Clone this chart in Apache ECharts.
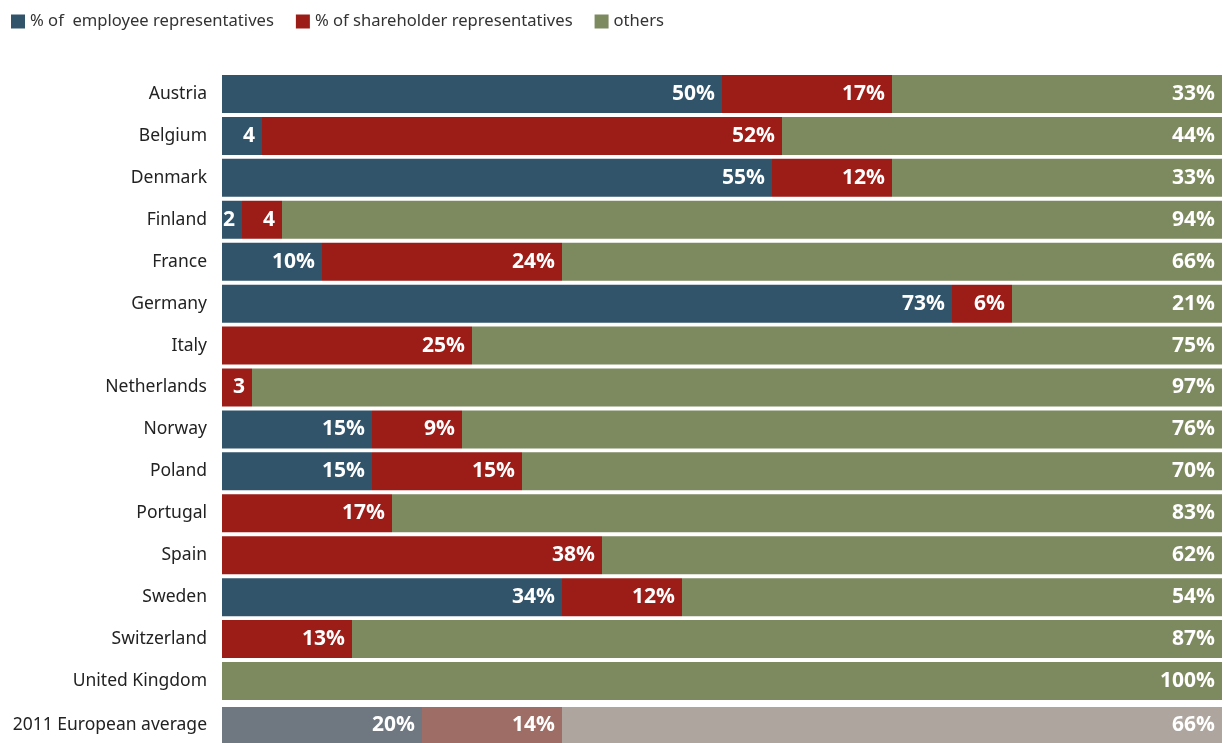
<!DOCTYPE html>
<html><head><meta charset="utf-8">
<script src="https://cdn.jsdelivr.net/npm/echarts@6/dist/echarts.min.js"></script>
<style>html,body{margin:0;padding:0;background:#fff}#c{width:1224px;height:743px}</style>
</head><body><div id="c"></div>
<script>
const categories = ["Austria","Belgium","Denmark","Finland","France","Germany","Italy","Netherlands","Norway","Poland","Portugal","Spain","Sweden","Switzerland","United Kingdom","2011 European average"];
const employee = [50,4,55,2,10,73,0,0,15,15,0,0,34,0,0,20];
const shareholder = [17,52,12,4,24,6,25,3,9,15,17,38,12,13,0,14];
const others = [33,44,33,94,66,21,75,97,76,70,83,62,54,87,100,66];
const seriesNames = ["% of  employee representatives","% of shareholder representatives","others"];
const colors = ["#31546b","#9c1c17","#7d8a5f"];
const avgColors = ["#6f7880","#9e6d65","#aea59f"];

const chart = echarts.init(document.getElementById('c'), null, {renderer:'canvas'});
function fmt(p){ const v=p.value; if(!v) return ''; return v<5 ? String(v) : v+'%'; }
const n = categories.length - 1;
const label = {show:true, position:'insideRight', distance:7, formatter:fmt, color:'#fff', fontFamily:'Open Sans', fontWeight:'bold', fontSize:21};
const series = [];
[employee, shareholder, others].forEach((vals,i)=>{
  series.push({name:seriesNames[i], type:'bar', stack:'a', barWidth:38, xAxisIndex:0, yAxisIndex:0,
    data: vals.slice(0,n), itemStyle:{color:colors[i]}, label, emphasis:{disabled:true}});
  series.push({name:seriesNames[i], type:'bar', stack:'b', barWidth:38, xAxisIndex:1, yAxisIndex:1,
    data: vals.slice(n), itemStyle:{color:avgColors[i]}, label, emphasis:{disabled:true}});
});
const yCommon = {type:'category', inverse:true, axisLine:{show:false}, axisTick:{show:false},
    axisLabel:{margin:15, fontFamily:'Noto Sans', fontSize:17.5, color:'#222'}};
chart.setOption({
  animation:false,
  legend:{left:6, top:8, itemWidth:14, itemHeight:14, itemGap:22, icon:'rect',
    textStyle:{fontFamily:'Noto Sans', fontSize:16.6, color:'#333'},
    data: seriesNames.map((s,i)=>({name:s, itemStyle:{color:colors[i]}}))},
  grid:[{left:222, right:2, top:73, height:629},{left:222, right:2, top:707, height:42}],
  xAxis:[{type:'value', min:0, max:100, show:false, gridIndex:0},{type:'value', min:0, max:100, show:false, gridIndex:1}],
  yAxis:[Object.assign({gridIndex:0, data:categories.slice(0,n)}, yCommon),
         Object.assign({gridIndex:1, data:categories.slice(n)}, yCommon)],
  series
});
</script></body></html>
